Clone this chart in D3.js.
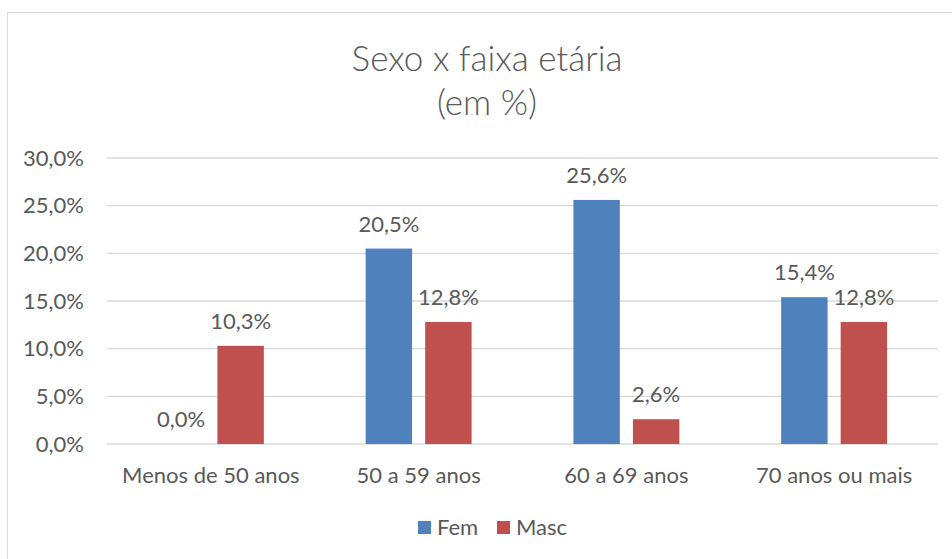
<!DOCTYPE html>
<html>
<head>
<meta charset="utf-8">
<script src="https://cdn.jsdelivr.net/npm/d3@7.9.0/dist/d3.min.js"></script>
<style>
  body { margin: 0; background: #fff; }
  svg text { font-family: Lato, "Open Sans", sans-serif; fill: #595959; }
</style>
</head>
<body>
<svg id="chart" width="952" height="559"></svg>
<script>
const categories = ['Menos de 50 anos', '50 a 59 anos', '60 a 69 anos', '70 anos ou mais'];
const seriesNames = ['Fem', 'Masc'];
const fem = [0.0, 20.5, 25.6, 15.4];
const masc = [10.3, 12.8, 2.6, 12.8];
const yTicks = [0, 5, 10, 15, 20, 25, 30];
const colors = ['#4F81BD', '#C0504D'];

const svg = d3.select('#chart');
const margin = { top: 158, right: 14, bottom: 115, left: 107 };
const width = 952 - margin.left - margin.right;
const height = 559 - margin.top - margin.bottom;
const fs = '22px';

// chart frame
svg.append('rect')
  .attr('x', 7.5).attr('y', 12.5)
  .attr('width', 960).attr('height', 560)
  .attr('fill', 'none')
  .attr('stroke', '#D9D9D9');

// title
svg.append('text')
  .attr('x', 487).attr('y', 71)
  .attr('text-anchor', 'middle')
  .style('font-size', '35px')
  .style('font-weight', 300)
  .text('Sexo x faixa etária');
svg.append('text')
  .attr('x', 487).attr('y', 115)
  .attr('text-anchor', 'middle')
  .style('font-size', '35px')
  .style('font-weight', 300)
  .text('(em %)');

const g = svg.append('g').attr('transform', `translate(${margin.left},${margin.top})`);

const x = d3.scaleBand().domain(categories).range([0, width]).padding(0);
const y = d3.scaleLinear().domain([0, 30]).range([height, 0]);

const fmt = v => d3.format('.1f')(v).replace('.', ',') + '%';

// gridlines
g.selectAll('.grid')
  .data(yTicks)
  .join('line')
  .attr('x1', 0).attr('x2', width)
  .attr('y1', d => y(d)).attr('y2', d => y(d))
  .attr('stroke', '#D9D9D9')
  .attr('stroke-width', 1.3);

// y axis labels
const yAxis = g.append('g')
  .call(d3.axisLeft(y).tickValues(yTicks).tickSize(0).tickPadding(23).tickFormat(fmt));
yAxis.select('.domain').remove();
yAxis.selectAll('text')
  .style('font-size', fs)
  .style('fill', '#595959')
  .style('font-family', 'Lato, sans-serif');

// x axis labels
const xAxis = g.append('g')
  .attr('transform', `translate(0,${height})`)
  .call(d3.axisBottom(x).tickSize(0).tickPadding(23));
xAxis.select('.domain').remove();
xAxis.selectAll('text')
  .style('font-size', fs)
  .style('fill', '#595959')
  .style('font-family', 'Lato, sans-serif');

const data = categories.map((c, i) => ({ cat: c, values: [fem[i], masc[i]] }));
const inner = d3.scaleBand().domain(seriesNames).range([x.bandwidth() * 0.245, x.bandwidth() * 0.755]).paddingInner(0.22);

const groups = g.selectAll('.cat')
  .data(data)
  .join('g')
  .attr('transform', d => `translate(${x(d.cat)},0)`);

groups.selectAll('rect')
  .data(d => d.values.map((v, i) => ({ name: seriesNames[i], v, i })))
  .join('rect')
  .attr('x', d => inner(d.name))
  .attr('width', inner.bandwidth())
  .attr('y', d => y(d.v))
  .attr('height', d => y(0) - y(d.v))
  .attr('fill', d => colors[d.i]);

groups.selectAll('.lbl')
  .data(d => d.values.map((v, i) => ({ name: seriesNames[i], v, i })))
  .join('text')
  .attr('x', d => inner(d.name) + inner.bandwidth() / 2)
  .attr('y', d => y(d.v) - 17)
  .attr('text-anchor', 'middle')
  .style('font-size', fs)
  .text(d => fmt(d.v));

// legend
const legend = svg.append('g').attr('transform', 'translate(418,520)');
const items = [{ name: 'Fem', x: 0 }, { name: 'Masc', x: 79 }];
items.forEach((it, i) => {
  legend.append('rect')
    .attr('x', it.x).attr('y', 1)
    .attr('width', 13).attr('height', 13)
    .attr('fill', colors[i]);
  legend.append('text')
    .attr('x', it.x + 19).attr('y', 15)
    .style('font-size', fs)
    .text(seriesNames[i]);
});
</script>
</body>
</html>
